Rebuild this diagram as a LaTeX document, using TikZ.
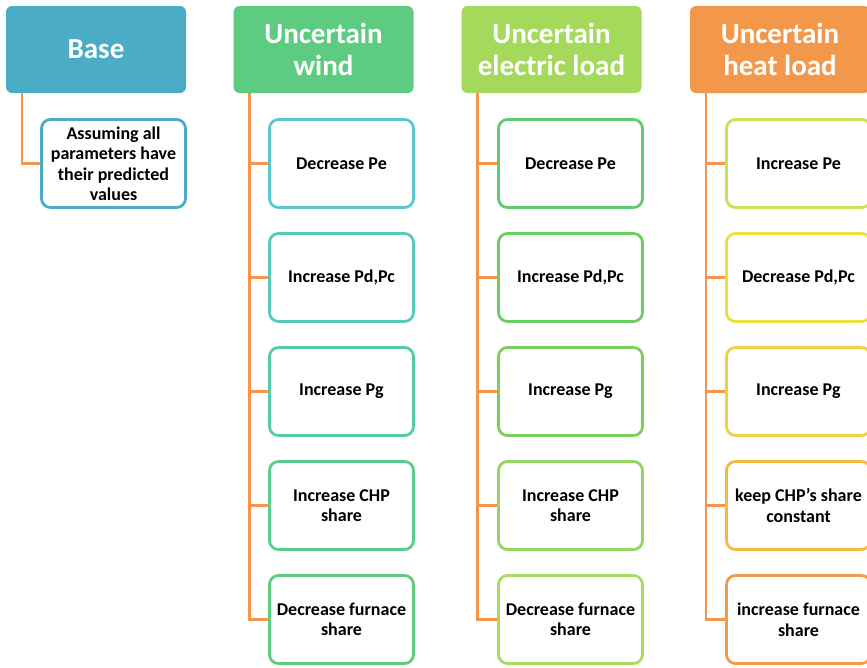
\documentclass[tikz,border=0pt]{standalone}
\usepackage{fontspec}
\setmainfont{Carlito}
\usetikzlibrary{positioning}

\definecolor{basecol}{HTML}{4BACC6}
\definecolor{windcol}{HTML}{5ECC80}
\definecolor{eleccol}{HTML}{A5D95B}
\definecolor{heatcol}{HTML}{F3984B}
\definecolor{stemcol}{HTML}{F7964A}
% leaf borders
\definecolor{wa}{HTML}{5BC8D0}
\definecolor{wb}{HTML}{55CBB8}
\definecolor{wc}{HTML}{55CCA4}
\definecolor{wd}{HTML}{5BCC8E}
\definecolor{we}{HTML}{5ECC7C}
\definecolor{ea}{HTML}{5ECC6E}
\definecolor{eb}{HTML}{6ACF5E}
\definecolor{ec}{HTML}{78D25A}
\definecolor{ed}{HTML}{90D660}
\definecolor{ee}{HTML}{A8DC60}
\definecolor{ha}{HTML}{C8E05A}
\definecolor{hb}{HTML}{E6E040}
\definecolor{hc}{HTML}{F0D040}
\definecolor{hd}{HTML}{F5B842}
\definecolor{he}{HTML}{F39A4A}

\tikzset{
  head/.style={fill=#1, text=white, rounded corners=6pt, minimum width=180pt,
    minimum height=87pt, align=center, inner sep=0pt,
    font=\bfseries\fontsize{29}{32}\selectfont},
  leaf/.style={draw=#1, line width=2.8pt, fill=white, rounded corners=9pt,
    minimum width=144pt, minimum height=88pt, align=center, inner sep=0pt,
    font=\bfseries\fontsize{18}{20.5}\selectfont},
  branch/.style={draw=stemcol, line width=2.5pt}
}

\begin{document}
\begin{tikzpicture}[x=1pt,y=-1pt]
    \useasboundingbox (0,0) rectangle (867,667);
    %% headers
    \node[head=basecol] (base) at (96,49.5) {Base};
    \node[head=windcol] (wind) at (323.5,49.5) {Uncertain\\wind};
    \node[head=eleccol] (elec) at (551.5,49.5) {Uncertain\\electric load};
    \node[head=heatcol] (heat) at (780,49.5) {Uncertain\\heat load};
    %%
    \node[leaf=basecol] (b1) at (113.5,163.5) {Assuming all\\parameters have\\their predicted\\values};
    %%
    \node[leaf=wa] (w1) at (341.5,163.5) {Decrease Pe};
    \node[leaf=wb] (w2) at (341.5,277.5) {Increase Pd,Pc};
    \node[leaf=wc] (w3) at (341.5,391.5) {Increase Pg};
    \node[leaf=wd] (w4) at (341.5,505.5) {Increase CHP\\share};
    \node[leaf=we] (w5) at (341.5,619.5) {Decrease furnace\\share};
    %%
    \node[leaf=ea] (e1) at (570.5,163.5) {Decrease Pe};
    \node[leaf=eb] (e2) at (570.5,277.5) {Increase Pd,Pc};
    \node[leaf=ec] (e3) at (570.5,391.5) {Increase Pg};
    \node[leaf=ed] (e4) at (570.5,505.5) {Increase CHP\\share};
    \node[leaf=ee] (e5) at (570.5,619.5) {Decrease furnace\\share};
    %%
    \node[leaf=ha] (h1) at (798.5,163.5) {Increase Pe};
    \node[leaf=hb] (h2) at (798.5,277.5) {Decrease Pd,Pc};
    \node[leaf=hc] (h3) at (798.5,391.5) {Increase Pg};
    \node[leaf=hd] (h4) at (798.5,505.5) {keep CHP’s share\\constant};
    \node[leaf=he] (h5) at (798.5,619.5) {increase furnace\\share};
    %% stems
    \coordinate (bstem) at ([xshift=16pt]base.south west);
    \coordinate (wstem) at ([xshift=16pt]wind.south west);
    \coordinate (estem) at ([xshift=16pt]elec.south west);
    \coordinate (hstem) at ([xshift=16pt]heat.south west);
    \draw[branch] (bstem) |- (b1.west);
    \draw[branch] (wstem) |- (w5.west);
    \draw[branch] (estem) |- (e5.west);
    \draw[branch] (hstem) |- (h5.west);
    \foreach \n in {1,2,3,4} {
      \draw[branch] (w\n.west) -- (w\n.west -| wstem);
      \draw[branch] (e\n.west) -- (e\n.west -| estem);
      \draw[branch] (h\n.west) -- (h\n.west -| hstem);
    }
\end{tikzpicture}
\end{document}
